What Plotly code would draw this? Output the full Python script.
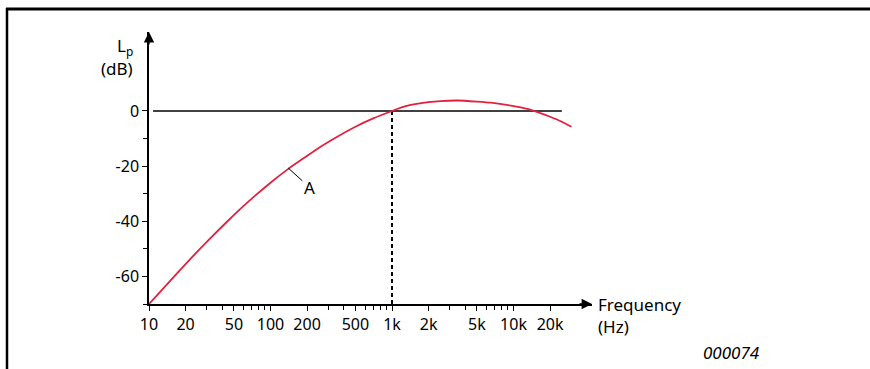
import numpy as np
import plotly.graph_objects as go

# curve values (A-weighting style curve)
freq_hz = [10, 20, 31.6, 44.7, 63, 100, 141, 178, 251, 316, 500, 708, 1000, 1200, 1400, 2000,
           2500, 3500, 5000, 6500, 10000, 13000, 16000, 20000, 25000, 30000]
level_db = [-70, -55.5, -46.4, -39.8, -33.6, -26.0, -20.9, -17.8, -13.3, -10.6, -5.7, -2.6, 0,
            1.3, 2.1, 3.2, 3.6, 3.8, 3.4, 3.0, 1.8, 0.8, -0.5, -2.1, -3.9, -5.7]

# x axis ticks
tick_vals = [10, 20, 50, 100, 200, 500, 1000, 2000, 5000, 10000, 20000]
tick_text = ["10", "20", "50", "100", "200", "500", "1k", "2k", "5k", "10k", "20k"]
minor_vals = [30, 40, 60, 70, 80, 90, 300, 400, 600, 700, 800, 900,
              3000, 4000, 6000, 7000, 8000, 9000]

# y axis ticks
y_ticks = [-60, -40, -20, 0]
y_text = ["-60", "-40", "-20", "0"]
y_minor = [-70, -50, -30, -10]

# reference lines
zero_line_x = [10.8, 25000]
ref_freq = 1000

W, H = 870, 369
L, R, T, B = 149, 278, 32, 65
pw, ph = W - L - R, H - T - B


def px(x):  # pixel -> paper x
    return (x - L) / pw


def py(y):  # pixel -> paper y
    return (H - B - y) / ph


fig = go.Figure()

# 0 dB line
fig.add_trace(go.Scatter(x=zero_line_x, y=[0, 0], mode="lines",
                         line=dict(color="black", width=1.5), hoverinfo="skip"))
# dotted line at 1 kHz
fig.add_trace(go.Scatter(x=[ref_freq, ref_freq], y=[0, -70], mode="lines",
                         line=dict(color="black", width=2, dash="4px,3px"), hoverinfo="skip"))
# the curve
fig.add_trace(go.Scatter(x=freq_hz, y=level_db, mode="lines",
                         line=dict(color="#e2213f", width=1.8, shape="spline", smoothing=0.6),
                         hoverinfo="skip"))

tick_font = dict(family="Noto Sans, Open Sans, sans-serif", size=16, color="black")
font = dict(family="Noto Sans, Open Sans, sans-serif", size=17, color="black")

fig.update_xaxes(type="log", range=[1, 1 + (592 - L) / 121.5],
                 tickmode="array", tickvals=tick_vals, ticktext=tick_text,
                 ticks="outside", ticklen=5, tickwidth=1, tickcolor="black",
                 showline=True, linecolor="black", linewidth=1.5,
                 showgrid=False, zeroline=False, tickfont=tick_font,
                 minor=dict(tickmode="array", tickvals=minor_vals, ticks="outside",
                            ticklen=4, tickwidth=1, tickcolor="black", showgrid=False))
fig.update_yaxes(range=[-70, 28.65], tickmode="array", tickvals=y_ticks, ticktext=y_text,
                 ticks="outside", ticklen=5, tickwidth=1, tickcolor="black",
                 showline=True, linecolor="black", linewidth=1.5,
                 showgrid=False, zeroline=False, tickfont=tick_font,
                 minor=dict(tickmode="array", tickvals=y_minor, ticks="outside",
                            ticklen=4, tickwidth=1, tickcolor="black", showgrid=False))

arrow = dict(showarrow=True, arrowhead=2, arrowsize=1.6, arrowwidth=1.3,
             arrowcolor="black", text="", axref="pixel", ayref="pixel")

annotations = [
    # axis arrowheads
    dict(xref="x domain", yref="y domain", x=0, y=1, ax=0, ay=14, **arrow),
    dict(xref="x domain", yref="y", x=1, y=-70, ax=-14, ay=0, **arrow),
    # axis titles
    dict(xref="paper", yref="paper", x=px(135), y=py(46), xanchor="right", yanchor="middle",
         text="L<sub>p</sub>", showarrow=False, font=font),
    dict(xref="paper", yref="paper", x=px(135), y=py(68), xanchor="right", yanchor="middle",
         text="(dB)", showarrow=False, font=font),
    dict(xref="paper", yref="paper", x=px(596), y=py(304), xanchor="left", yanchor="middle",
         text="Frequency", showarrow=False, font=font),
    dict(xref="paper", yref="paper", x=px(596), y=py(326), xanchor="left", yanchor="middle",
         text="(Hz)", showarrow=False, font=font),
    dict(xref="paper", yref="paper", x=px(762), y=py(352), xanchor="right", yanchor="middle",
         text="<i>000074</i>", showarrow=False, font=font),
    # curve label
    dict(xref="x", yref="y", x=np.log10(140), y=-20.7, ax=21, ay=19, text="A",
         showarrow=True, arrowhead=0, arrowwidth=1, arrowcolor="black", font=font),
]

shapes = [
    dict(type="line", xref="paper", yref="paper", x0=px(6), x1=px(870), y0=py(9), y1=py(9),
         line=dict(color="black", width=3)),
    dict(type="line", xref="paper", yref="paper", x0=px(7), x1=px(7), y0=py(8), y1=py(372),
         line=dict(color="black", width=2.5)),
]

fig.update_layout(width=W, height=H, margin=dict(l=L, r=R, t=T, b=B),
                  plot_bgcolor="white", paper_bgcolor="white",
                  showlegend=False, hovermode=False,
                  annotations=annotations, shapes=shapes)

fig.write_html("out.html", config={"displayModeBar": False},
               post_script="document.body.style.margin='0';")
